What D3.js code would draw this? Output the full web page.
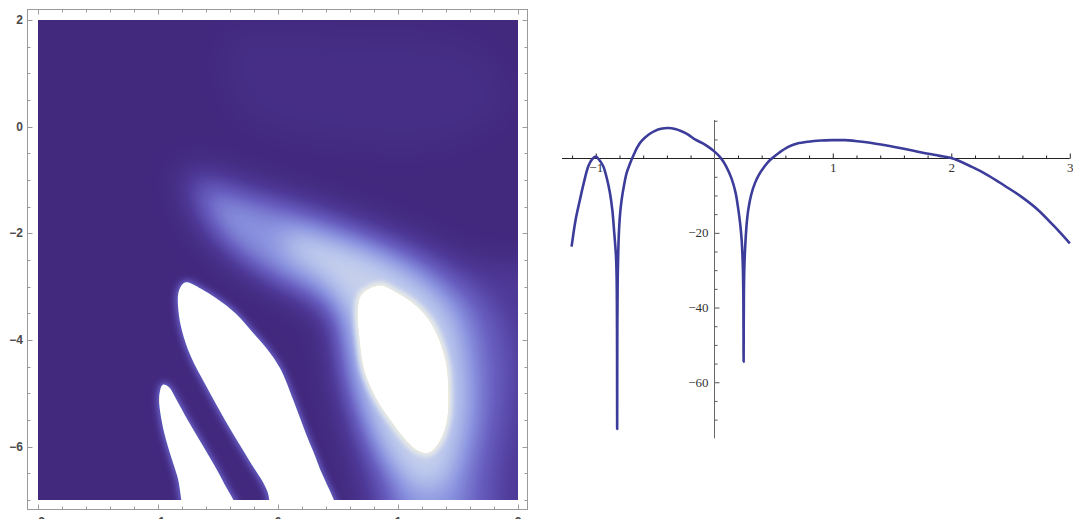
<!DOCTYPE html>
<html>
<head>
<meta charset="utf-8">
<script src="https://cdn.jsdelivr.net/npm/d3@7"></script>
<style>
  body { margin: 0; background: #fff; }
  text { font-family: "Liberation Serif", "Times New Roman", serif; }
</style>
</head>
<body>
<svg id="chart" width="1073" height="519"></svg>
<script>
// ---- density plot data (outlines, in data units) ----
// white (clipped) regions
var stripeA = [[-0.99,-5.05],[-0.97,-5.51],[-0.92,-5.98],[-0.84,-6.55],[-0.72,-7.5],
               [-0.30,-7.5],[-0.46,-6.64],[-0.60,-6.08],[-0.75,-5.51],[-0.85,-5.10],
               [-0.91,-4.88],[-0.96,-4.84]];
var stripeB = [[-0.79,-2.94],[-0.83,-3.11],[-0.83,-3.45],[-0.80,-3.83],[-0.73,-4.29],
               [-0.60,-4.86],[-0.44,-5.51],[-0.24,-6.26],[-0.09,-6.83],[-0.02,-7.5],
               [0.50,-7.5],[0.34,-6.36],[0.23,-5.74],[0.13,-5.14],[0.02,-4.54],
               [-0.08,-4.20],[-0.21,-3.86],[-0.35,-3.51],[-0.52,-3.21],[-0.69,-2.98],
               [-0.745,-2.92]];
var blobC = [[0.86,-2.98],[1.00,-3.13],[1.13,-3.32],[1.25,-3.60],[1.34,-3.98],
             [1.40,-4.43],[1.42,-4.95],[1.41,-5.48],[1.35,-5.89],[1.26,-6.11],
             [1.17,-6.08],[1.07,-5.89],[0.94,-5.51],[0.82,-5.10],[0.72,-4.58],
             [0.68,-4.01],[0.665,-3.45],[0.69,-3.17],[0.76,-3.04]];

// glow levels (0 = dark, 1 = white) and their outlines
var glowLevels = [0.05, 0.15, 0.35, 0.55, 0.8];
var glowTop = [[-0.40,1.62],[0.61,1.71],[1.61,1.43],[1.90,0.49],[1.44,-0.26],
               [0.44,-0.26],[-0.31,0.30]];
var glowOuter = [[-0.80,-0.79],[-0.65,-0.73],[-0.31,-0.92],[0.11,-1.20],[0.61,-1.57],
                 [1.11,-1.99],[1.61,-2.48],[2.7,-2.89],[2.7,-8.6],[0.93,-8.6],
                 [0.62,-6.45],[0.51,-5.51],[0.42,-4.58],[0.37,-3.83],[0.19,-3.36],
                 [-0.10,-2.98],[-0.40,-2.55],[-0.65,-2.04],[-0.77,-1.48],[-0.83,-1.11]];
var glowMid = [[-0.69,-0.97],[-0.31,-1.20],[0.11,-1.44],[0.61,-1.80],[1.07,-2.23],
               [1.48,-2.74],[1.82,-3.45],[1.94,-4.39],[1.90,-5.51],[1.82,-6.45],
               [1.70,-8.6],[1.05,-8.6],[0.82,-6.64],[0.69,-5.89],[0.57,-4.95],
               [0.51,-4.11],[0.46,-3.64],[0.23,-3.23],[-0.06,-2.89],[-0.35,-2.42],
               [-0.56,-1.86],[-0.71,-1.35]];
var glowInner = [[-0.56,-1.20],[-0.31,-1.39],[0.06,-1.63],[0.52,-1.99],[0.94,-2.36],
                 [1.27,-2.79],[1.57,-3.45],[1.67,-4.39],[1.67,-5.51],[1.59,-6.45],
                 [1.40,-8.6],[1.16,-8.6],[0.96,-6.73],[0.82,-6.08],[0.69,-5.23],
                 [0.61,-4.39],[0.58,-3.64],[0.36,-3.17],[0.06,-2.89],[-0.23,-2.48],
                 [-0.48,-1.99],[-0.56,-1.57]];
var glowCore = [[0.05,-1.98],[0.52,-2.16],[0.90,-2.50],[1.19,-2.90],[1.42,-3.45],
                [1.53,-4.20],[1.57,-5.14],[1.52,-5.89],[1.42,-6.55],[1.27,-6.83],
                [1.11,-6.68],[0.94,-6.30],[0.79,-5.74],[0.65,-4.95],[0.57,-4.11],
                [0.52,-3.45],[0.36,-2.86],[0.10,-2.42]];
var glowShapes = [glowTop, glowOuter, glowMid, glowInner, glowCore];

var rampStops  = [0, 0.15, 0.35, 0.55, 0.75, 0.88, 0.95, 1];
var rampColors = ["#42297e", "#4d3896", "#675dbf", "#8a93df", "#b9c5ec", "#dde3ea", "#efedd9", "#ffffff"];

var densityXTicks = [-2, -1, 0, 1, 2];
var densityYTicks = [-6, -4, -2, 0, 2];

// ---- line plot data ----
var curve = [[-1.204,-23.7],[-1.17,-16.5],[-1.134,-11.2],[-1.10,-6.5],[-1.063,-2.2],
  [-1.03,-0.3],[-1.0,0.4],[-0.97,-0.5],[-0.937,-2.2],[-0.91,-5.0],[-0.88,-9.4],
  [-0.86,-14.0],[-0.844,-20.1],[-0.83,-26],[-0.824,-32],[-0.821,-45],[-0.8195,-72.5],
  [-0.818,-45],[-0.815,-32],[-0.81,-25],[-0.805,-20.1],[-0.795,-15],[-0.782,-11.2],
  [-0.76,-7],[-0.74,-4.0],[-0.715,-1.8],[-0.692,0],[-0.65,2.9],[-0.613,4.6],
  [-0.55,6.4],[-0.50,7.3],[-0.45,7.85],[-0.39,8.05],[-0.33,7.8],[-0.276,7.2],
  [-0.22,6.3],[-0.163,5.0],[-0.10,4.0],[-0.05,3.0],[0.0,1.8],[0.056,0],
  [0.10,-2.2],[0.146,-5.5],[0.18,-9.3],[0.203,-13.8],[0.22,-18],[0.231,-21.9],
  [0.24,-28],[0.245,-36],[0.2475,-54.5],[0.25,-36],[0.255,-28],[0.264,-21.9],
  [0.275,-17],[0.287,-13.8],[0.31,-10],[0.343,-6.7],[0.38,-4.3],[0.413,-2.7],
  [0.45,-1.2],[0.49,0],[0.55,1.5],[0.624,3.0],[0.70,3.9],[0.793,4.4],[0.90,4.7],
  [0.99,4.8],[1.1,4.8],[1.187,4.6],[1.3,4.2],[1.468,3.3],[1.6,2.5],[1.75,1.5],
  [1.9,0.6],[2.0,0],[2.17,-2.3],[2.31,-4.6],[2.45,-7.4],[2.59,-10.3],[2.73,-13.8],
  [2.87,-18.3],[3.0,-22.8]];

var lineXTicks = [-1, 1, 2, 3];
var lineYTicks = [-60, -40, -20];

var svg = d3.select("#chart");
var fmt = d3.format("d");

// ================= left: density plot =================
var dx = d3.scaleLinear().domain([-2, 2]).range([38, 518]);
var dy = d3.scaleLinear().domain([-7, 2]).range([500, 20]);

var P = 80, W = 480, H = 480;
var mx = d3.scaleLinear().domain([-2, 2]).range([P, P + W]);
var my = d3.scaleLinear().domain([-7, 2]).range([P + H, P]);

function shape(ctx, pts) {
  ctx.beginPath();
  d3.line().x(d => mx(d[0])).y(d => my(d[1]))
    .curve(d3.curveCatmullRomClosed.alpha(0.5)).context(ctx)(pts);
}
function gray(v) { var c = Math.round(v * 255); return "rgb(" + c + "," + c + "," + c + ")"; }

// intensity mask
var mask = document.createElement("canvas");
mask.width = W + 2 * P; mask.height = H + 2 * P;
var m = mask.getContext("2d");
m.fillStyle = "#000"; m.fillRect(0, 0, mask.width, mask.height);
glowShapes.forEach(function(pts, i) {
  m.fillStyle = gray(glowLevels[i]);
  shape(m, pts); m.fill();
});

var soft = document.createElement("canvas");
soft.width = mask.width; soft.height = mask.height;
var s = soft.getContext("2d");
s.fillStyle = "#000"; s.fillRect(0, 0, soft.width, soft.height);
s.filter = "blur(14px)";
s.drawImage(mask, 0, 0);
s.globalCompositeOperation = "lighten";
// cream rim round the big blob
s.filter = "blur(2.5px)";
s.strokeStyle = gray(0.93); s.lineWidth = 7;
shape(s, blobC); s.stroke();
// faint halo round the stripes
s.filter = "blur(3px)";
s.strokeStyle = gray(0.5); s.lineWidth = 5;
[stripeA, stripeB].forEach(function(p) { shape(s, p); s.stroke(); });
// clipped (white) regions
s.filter = "blur(0.6px)";
s.fillStyle = "#fff";
[stripeA, stripeB, blobC].forEach(function(p) { shape(s, p); s.fill(); });
s.filter = "none";

// colourise through a d3 colour scale
var ramp = d3.scaleLinear().domain(rampStops).range(rampColors).clamp(true);
var lut = d3.range(256).map(function(i) { return d3.rgb(ramp(i / 255)); });
var img = s.getImageData(P, P, W, H);
for (var i = 0; i < img.data.length; i += 4) {
  var c = lut[img.data[i]];
  img.data[i] = c.r; img.data[i + 1] = c.g; img.data[i + 2] = c.b; img.data[i + 3] = 255;
}
var out = document.createElement("canvas");
out.width = W; out.height = H;
out.getContext("2d").putImageData(img, 0, 0);

svg.append("image")
  .attr("x", dx(-2)).attr("y", dy(2))
  .attr("width", W).attr("height", H)
  .attr("href", out.toDataURL());

// frame
var fL = 27.5, fR = 527.5, fT = 9.5, fB = 509.5;
var frame = svg.append("g").attr("stroke", "#9a9a9a").attr("fill", "none");
frame.append("rect").attr("x", fL).attr("y", fT).attr("width", fR - fL).attr("height", fB - fT);

var fxTicks = d3.range(-2, 2.0001, 0.2).map(v => Math.round(v * 10) / 10);
var fyTicks = d3.range(-7, 2.0001, 0.5);
fxTicks.forEach(function(v) {
  var len = Number.isInteger(v) ? 5 : 3, X = Math.round(dx(v)) + 0.5;
  frame.append("line").attr("x1", X).attr("x2", X).attr("y1", fB).attr("y2", fB - len);
  frame.append("line").attr("x1", X).attr("x2", X).attr("y1", fT).attr("y2", fT + len);
});
fyTicks.forEach(function(v) {
  var len = (v % 2 === 0) ? 5 : 3, Y = Math.round(dy(v)) + 0.5;
  frame.append("line").attr("y1", Y).attr("y2", Y).attr("x1", fL).attr("x2", fL + len);
  frame.append("line").attr("y1", Y).attr("y2", Y).attr("x1", fR).attr("x2", fR - len);
});

svg.append("g").selectAll("text").data(densityYTicks).join("text")
  .attr("x", 23).attr("y", d => dy(d) + 4)
  .attr("text-anchor", "end")
  .style("font-family", "'Liberation Sans', Arial, sans-serif")
  .style("font-weight", "bold").style("font-size", "12px").attr("fill", "#4a4a4a")
  .text(d => fmt(d));
// bottom labels sit partly below the page edge, as in the original
svg.append("g").selectAll("text").data(densityXTicks).join("text")
  .attr("x", d => dx(d)).attr("y", 526)
  .attr("text-anchor", "middle")
  .style("font-family", "'Liberation Sans', Arial, sans-serif")
  .style("font-weight", "bold").style("font-size", "12px").attr("fill", "#4a4a4a")
  .text(d => fmt(d));

// ================= right: line plot =================
var lx = d3.scaleLinear().domain([-1.285, 3]).range([562, 1069.8]);
var ly = d3.scaleLinear().domain([-75, 10.2]).range([438.3, 120]);
var y0 = Math.round(ly(0)) + 0.5, x0 = Math.round(lx(0)) + 0.5;

var minorX = d3.range(-1.2, 3.0001, 0.2).map(v => Math.round(v * 10) / 10)
  .filter(v => !Number.isInteger(v));
var minorY = d3.range(-70, 10.001, 5).filter(v => v % 20 !== 0);

var gx = svg.append("g").attr("transform", "translate(0," + y0 + ")");
gx.append("g").call(d3.axisBottom(lx).tickValues(minorX).tickSize(-3).tickFormat(""));
gx.append("g").call(d3.axisBottom(lx).tickValues(lineXTicks).tickSize(-5).tickPadding(4).tickFormat(fmt));
gx.selectAll(".domain").remove();
gx.selectAll("line").attr("stroke", "#222");
gx.selectAll("text").attr("fill", "#333").style("font-size", "13px")
  .style("font-family", "'Liberation Serif', serif");
gx.append("line").attr("x1", lx(-1.285)).attr("x2", lx(3)).attr("stroke", "#222");

var gy = svg.append("g").attr("transform", "translate(" + x0 + ",0)");
gy.append("g").call(d3.axisLeft(ly).tickValues(minorY).tickSize(-3).tickFormat(""));
gy.append("g").call(d3.axisLeft(ly).tickValues(lineYTicks).tickSize(-5).tickPadding(6).tickFormat(fmt));
gy.selectAll(".domain").remove();
gy.selectAll("line").attr("stroke", "#555");
gy.selectAll("text").attr("fill", "#333").style("font-size", "13px")
  .style("font-family", "'Liberation Serif', serif");
gy.append("line").attr("y1", ly(10.2)).attr("y2", ly(-75)).attr("stroke", "#666");

svg.append("path").datum(curve)
  .attr("fill", "none")
  .attr("stroke", "#3c3c9a")
  .attr("stroke-width", 2.6)
  .attr("stroke-linejoin", "round")
  .attr("d", d3.line().x(d => lx(d[0])).y(d => ly(d[1])).curve(d3.curveCatmullRom.alpha(0.5)));
</script>
</body>
</html>
